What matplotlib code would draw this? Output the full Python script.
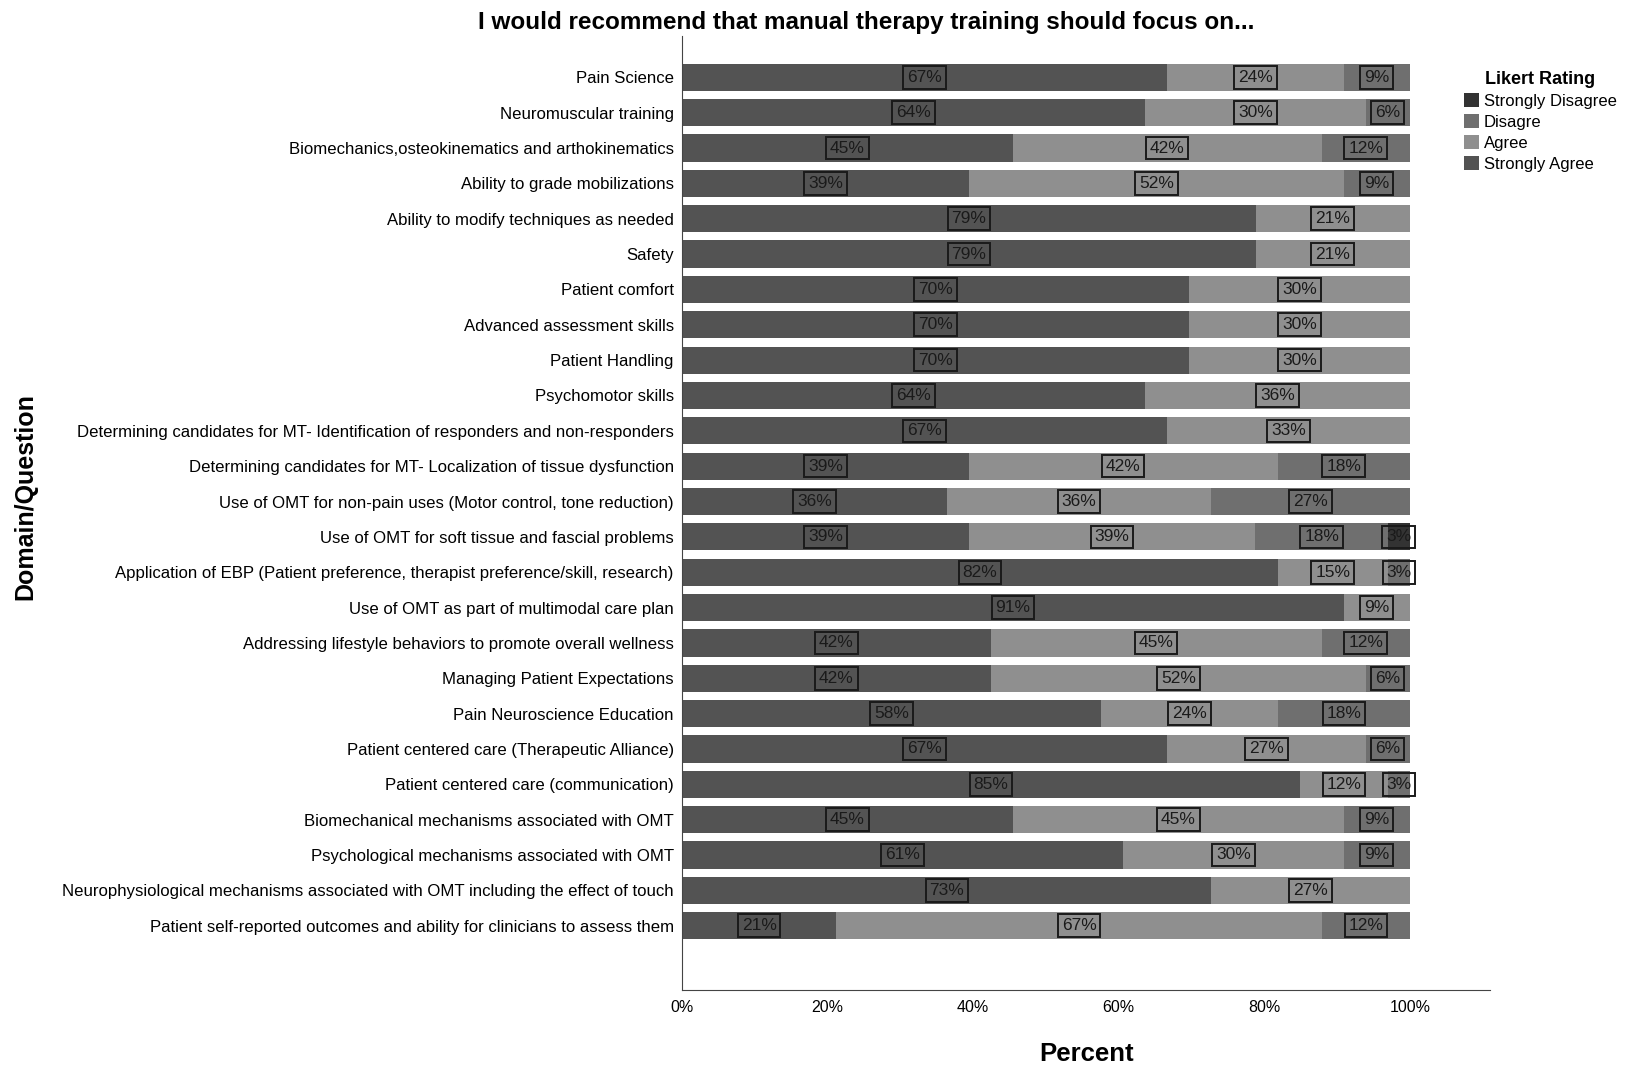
import matplotlib
matplotlib.use("Agg")
import matplotlib.pyplot as plt
import numpy as np

plt.rcParams['font.family'] = ['Liberation Sans', 'DejaVu Sans']

questions = [
    "Pain Science",
    "Neuromuscular training",
    "Biomechanics,osteokinematics and arthokinematics",
    "Ability to grade mobilizations",
    "Ability to modify techniques as needed",
    "Safety",
    "Patient comfort",
    "Advanced assessment skills",
    "Patient Handling",
    "Psychomotor skills",
    "Determining candidates for MT- Identification of responders and non-responders",
    "Determining candidates for MT- Localization of tissue dysfunction",
    "Use of OMT for non-pain uses (Motor control, tone reduction)",
    "Use of OMT for soft tissue and fascial problems",
    "Application of EBP (Patient preference, therapist preference/skill, research)",
    "Use of OMT as part of multimodal care plan",
    "Addressing lifestyle behaviors to promote overall wellness",
    "Managing Patient Expectations",
    "Pain Neuroscience Education",
    "Patient centered care (Therapeutic Alliance)",
    "Patient centered care (communication)",
    "Biomechanical mechanisms associated with OMT",
    "Psychological mechanisms associated with OMT",
    "Neurophysiological mechanisms associated with OMT including the effect of touch",
    "Patient self-reported outcomes and ability for clinicians to assess them",
]

strongly_agree = [66.67, 63.64, 45.45, 39.39, 78.79, 78.79, 69.70, 69.70, 69.70, 63.64, 66.67, 39.39, 36.36,
                  39.39, 81.82, 90.91, 42.42, 42.42, 57.58, 66.67, 84.85, 45.45, 60.61, 72.73, 21.21]
agree = [24.24, 30.30, 42.42, 51.52, 21.21, 21.21, 30.30, 30.30, 30.30, 36.36, 33.33, 42.42, 36.36,
         39.39, 15.15, 9.09, 45.45, 51.52, 24.24, 27.27, 12.12, 45.45, 30.30, 27.27, 66.67]
disagree = [9.09, 6.06, 12.12, 9.09, 0, 0, 0, 0, 0, 0, 0, 18.18, 27.27,
            18.18, 3.03, 0, 12.12, 6.06, 18.18, 6.06, 3.03, 9.09, 9.09, 0, 12.12]
strongly_disagree = [0, 0, 0, 0, 0, 0, 0, 0, 0, 0, 0, 0, 0,
                     3.03, 0, 0, 0, 0, 0, 0, 0, 0, 0, 0, 0]

legend_labels = ["Strongly Disagree", "Disagre", "Agree", "Strongly Agree"]
colors = {"Strongly Disagree": "#333333", "Disagre": "#6f6f6f",
          "Agree": "#8f8f8f", "Strongly Agree": "#535353"}

fig = plt.figure(figsize=(16.25, 10.65), dpi=100)
ax = fig.add_axes([682/1625, 1 - 990/1065, (1490-682)/1625, (990-36)/1065])

y = np.arange(len(questions))
series = [("Strongly Agree", strongly_agree), ("Agree", agree),
          ("Disagre", disagree), ("Strongly Disagree", strongly_disagree)]
left = np.zeros(len(questions))
handles = {}
for name, vals in series:
    vals = np.array(vals, dtype=float)
    bars = ax.barh(y, vals, left=left, height=0.77, color=colors[name], label=name)
    handles[name] = bars
    for yi, (l, v) in enumerate(zip(left, vals)):
        if v > 0:
            ax.text(l + v / 2, yi, f"{v:.0f}%", ha='center', va='center', fontsize=12.5,
                    color='#1a1a1a',
                    bbox=dict(boxstyle='square,pad=0.22', fc='none', ec='#1a1a1a', lw=1.4))
    left += vals

ax.set_yticks(y)
ax.set_yticklabels(questions, fontsize=12.1)
ax.set_ylim(len(questions) - 1 + 1.82, -1.17)
ax.set_xlim(0, 111)
ax.set_xticks([0, 20, 40, 60, 80, 100])
ax.set_xticklabels([f"{t}%" for t in [0, 20, 40, 60, 80, 100]], fontsize=11.5)
ax.tick_params(axis='y', length=0, pad=6)
ax.tick_params(axis='x', length=0, pad=7)
for s in ['top', 'right']:
    ax.spines[s].set_visible(False)
ax.spines['left'].set_color('#444444')
ax.spines['bottom'].set_color('#444444')

ax.set_xlabel("Percent", fontsize=18.5, fontweight='bold', va='top')
ax.xaxis.set_label_coords((1087-682)/808, (990-1042)/954)
ax.set_ylabel("Domain/Question", fontsize=18, fontweight='bold')
ax.yaxis.set_label_coords((37-682)/808, 0.517)
ax.set_title("I would recommend that manual therapy training should focus on...",
             fontsize=17.5, fontweight='bold', pad=5, x=(866-682)/(1490-682))

leg = fig.legend([handles[n] for n in legend_labels], legend_labels,
                 loc='upper left', bbox_to_anchor=(1464/1625, 1 - 71/1065),
                 frameon=False, title="Likert Rating", fontsize=12,
                 title_fontproperties={'weight': 'bold', 'size': 13},
                 handlelength=0.9, handleheight=0.85, handletextpad=0.3,
                 labelspacing=0.33, borderaxespad=0, borderpad=0)
leg._legend_box.align = "center"

fig.savefig("out.png", dpi=100)
